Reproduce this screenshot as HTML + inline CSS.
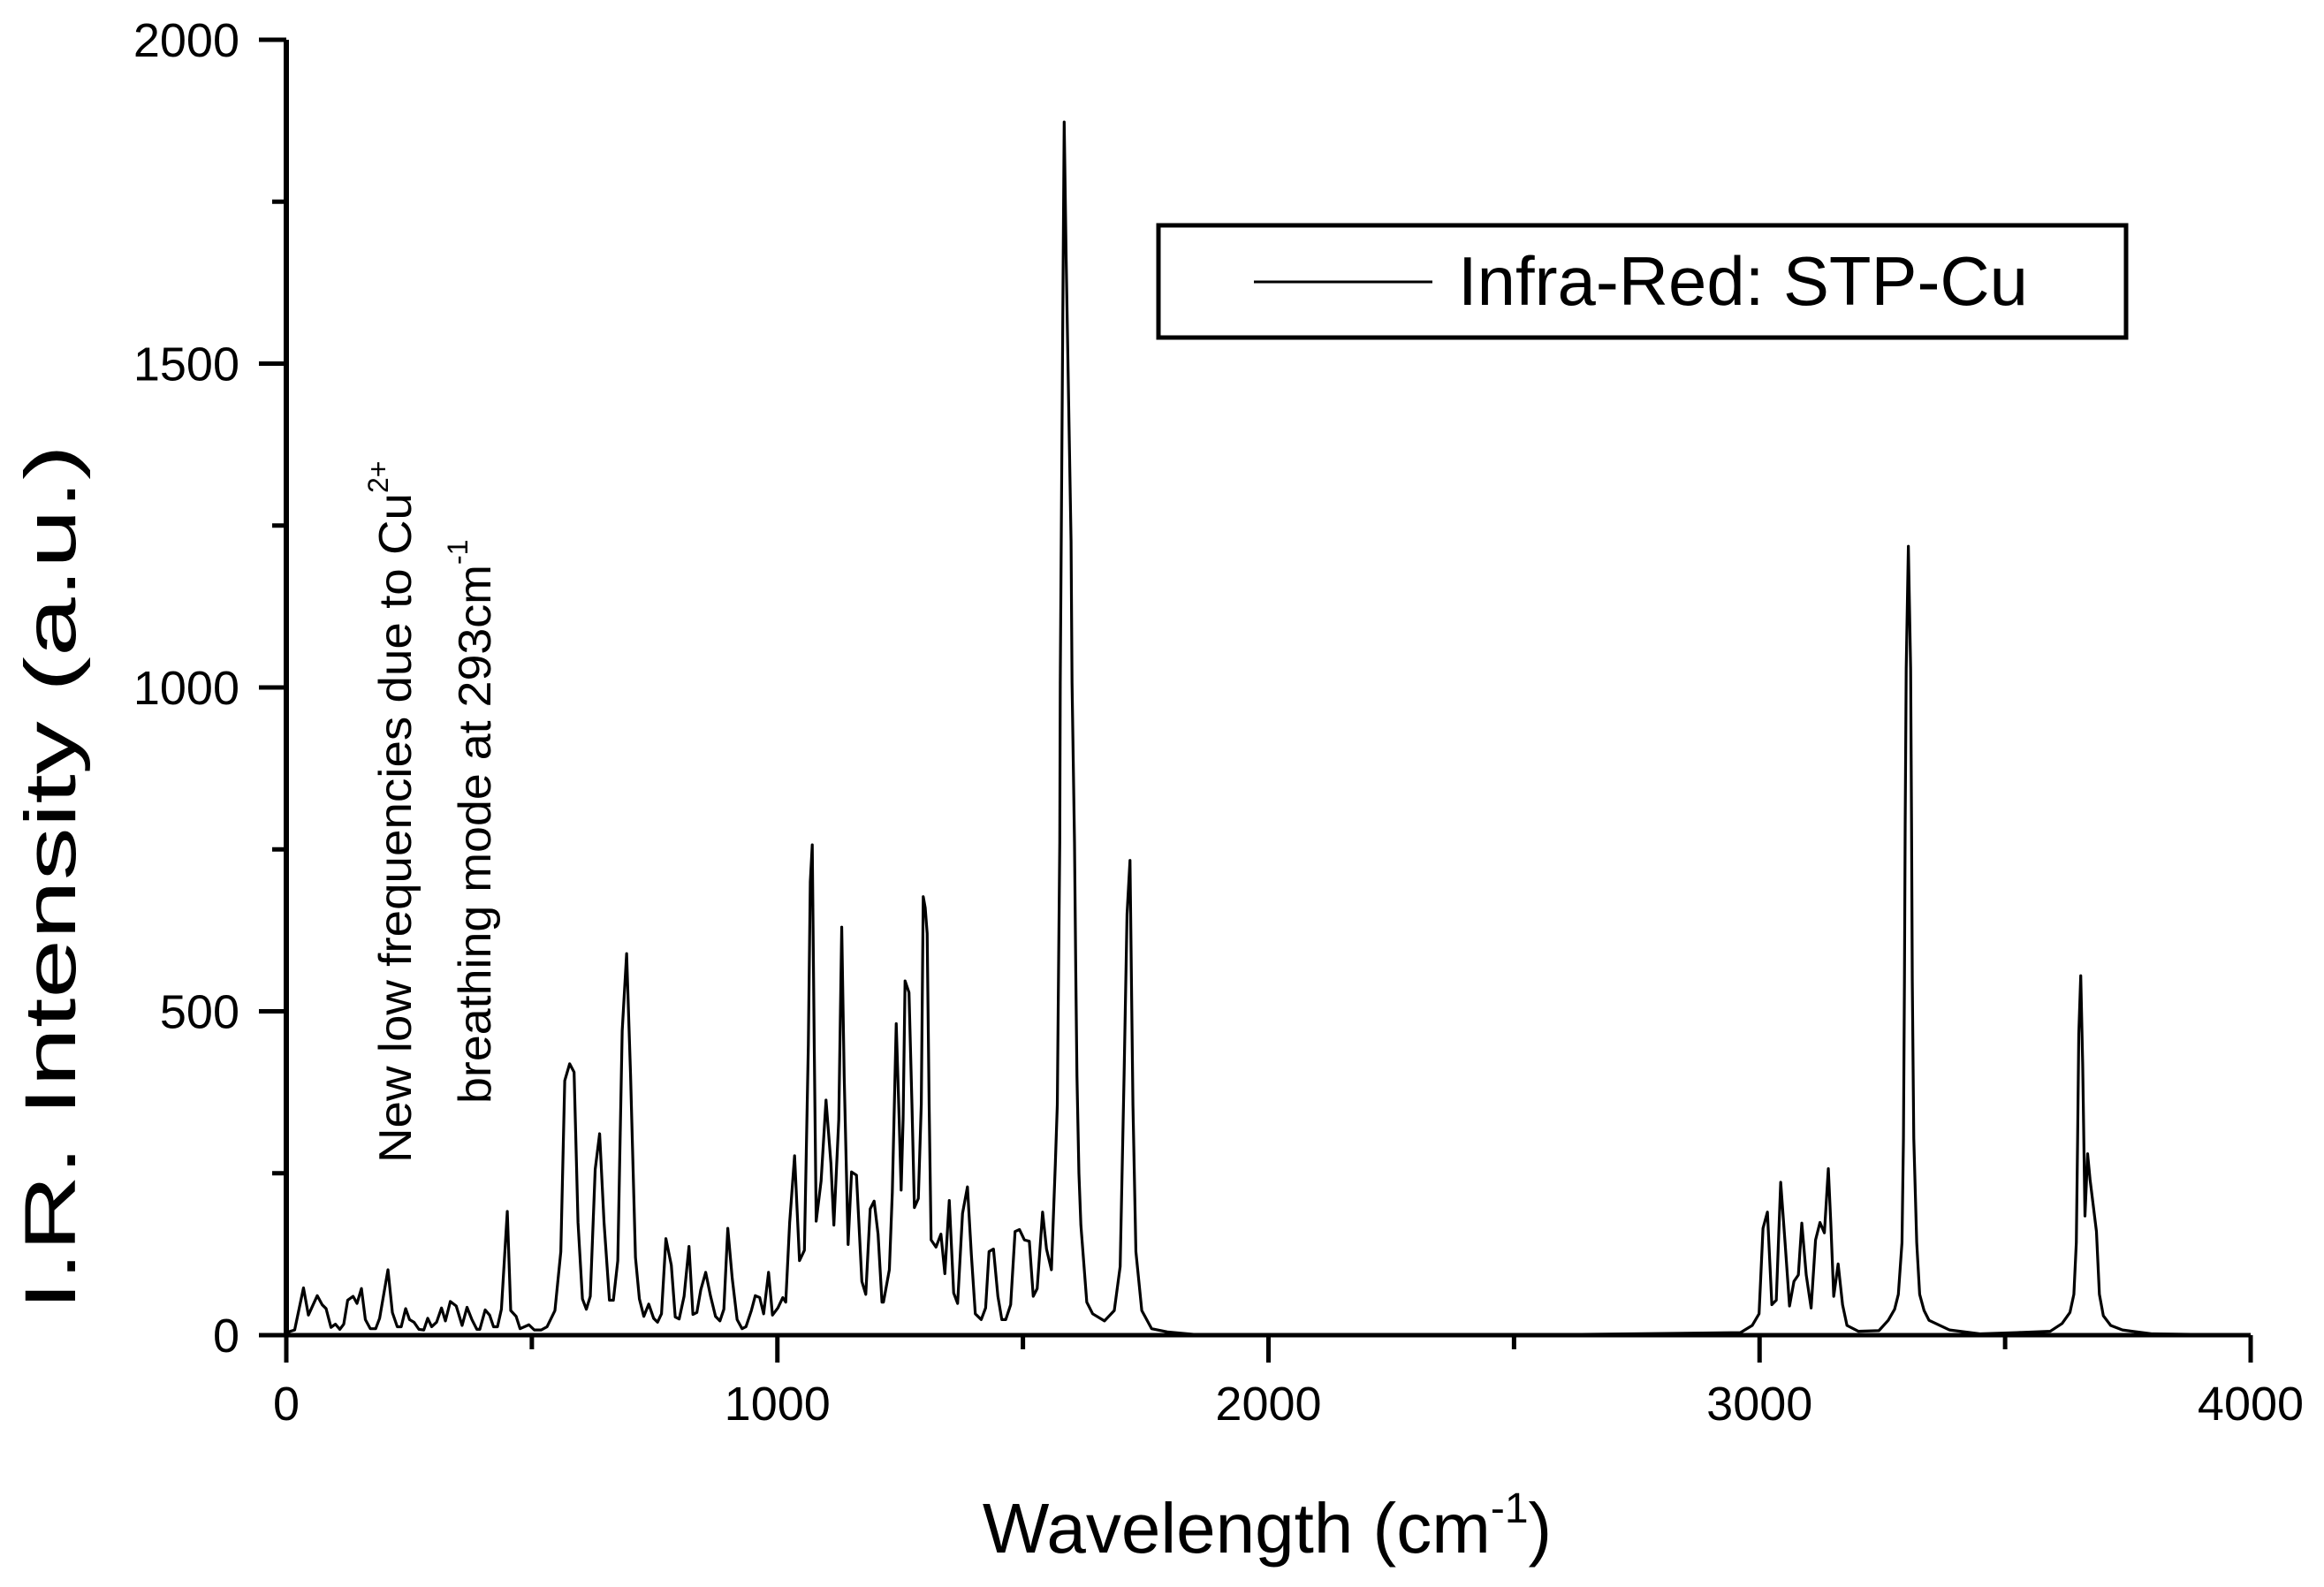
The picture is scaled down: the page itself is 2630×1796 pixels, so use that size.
<!DOCTYPE html>
<html><head><meta charset="utf-8"><style>
html,body{margin:0;padding:0;background:#fff;}
svg{display:block;font-family:"Liberation Sans",sans-serif;}
</style></head><body>
<svg id="chart" width="2630" height="1796" viewBox="0 0 2630 1796" xmlns="http://www.w3.org/2000/svg">
<rect x="0" y="0" width="2630" height="1796" fill="#fff"/>
<g id="axes"></g>
<path id="spectrum" fill="none" stroke="#000" stroke-width="3.2" stroke-linejoin="round"/>
<g>
<rect x="1311" y="255" width="1095" height="127" fill="#fff" stroke="#000" stroke-width="5"/>
<line x1="1419" y1="319" x2="1621" y2="319" stroke="#000" stroke-width="3"/>
<text x="1650" y="345" font-size="78" textLength="645" lengthAdjust="spacingAndGlyphs">Infra-Red: STP-Cu</text>
</g>
<text x="1434" y="1757" font-size="80" text-anchor="middle">Wavelength (cm<tspan font-size="48" dy="-34">-1</tspan><tspan dy="34">)</tspan></text>
<text transform="translate(85,993) rotate(-90)" font-size="82" text-anchor="middle" textLength="980" lengthAdjust="spacingAndGlyphs">I.R. Intensity (a.u.)</text>
<g>
<text transform="translate(465,1316) rotate(-90)" font-size="52"><tspan textLength="758" lengthAdjust="spacingAndGlyphs">New low frequencies due to Cu</tspan><tspan font-size="32" dy="-26">2+</tspan></text>
<text transform="translate(555,1249) rotate(-90)" font-size="52"><tspan textLength="610" lengthAdjust="spacingAndGlyphs">breathing mode at 293cm</tspan><tspan font-size="32" dy="-26">-1</tspan></text>
</g>
</svg>
<script>
const wavenumbers = [0,17,35,45,63,73,81,91,100,109,117,125,136,144,153,161,171,182,190,207,216,226,234,243,251,260,270,280,288,296,306,316,324,334,346,358,368,378,388,394,405,414,422,430,438,450,457,468,476,494,505,519,531,547,559,567,577,586,594,603,611,619,629,638,647,658,666,675,684,693,701,711,719,728,738,748,756,764,773,784,792,800,810,820,828,836,844,854,864,874,883,891,899,908,918,928,936,947,955,964,972,982,990,1001,1011,1017,1025,1035,1045,1055,1063,1067,1071,1075,1079,1089,1099,1109,1115,1125,1131,1136,1144,1151,1161,1172,1180,1189,1197,1205,1213,1216,1228,1234,1242,1248,1252,1256,1260,1268,1274,1279,1287,1293,1297,1301,1305,1309,1313,1323,1333,1341,1350,1359,1367,1377,1387,1395,1403,1415,1424,1431,1440,1449,1457,1465,1475,1484,1493,1503,1513,1521,1529,1540,1548,1558,1566,1570,1572.5,1575,1576,1578,1582,1584,1588,1598,1600,1605,1607.6,1610,1614,1618,1630,1642,1666,1686,1698,1706,1712,1718,1724,1730,1742,1762,1794,1850,2000,2500,2961,2985,2999,3007,3016,3025,3034,3043,3052,3061,3070,3079,3086,3095,3105,3114,3123,3132,3140,3145,3151,3160,3169,3178,3201,3243,3262,3275,3282.6,3290,3293,3295,3296.5,3298.6,3303,3307.6,3309.5,3311,3314,3320,3326,3335,3345,3387,3450,3525,3592,3616,3632,3640,3645,3647.6,3650,3654,3658,3662.6,3668,3673,3686,3692,3700,3715,3739,3800,4000];
const intensities = [4,8,73,31,61,47,41,12,17,9,17,54,60,49,72,24,10,10,26,101,35,13,13,41,24,20,9,8,26,13,20,42,22,52,45,15,43,24,9,9,39,31,13,13,40,191,38,29,10,16,8,8,13,38,129,393,419,406,174,56,40,60,256,311,174,54,54,115,470,589,402,120,56,29,48,26,20,33,149,108,28,25,60,137,32,35,70,97,60,29,22,40,165,88,24,10,13,38,61,58,33,97,31,42,58,51,174,277,115,131,447,700,757,450,176,238,363,265,170,333,630,400,140,252,247,83,63,195,207,156,51,51,101,220,481,333,224,333,547,529,356,197,211,356,677,660,620,356,147,136,156,95,208,65,49,188,229,124,33,24,42,129,133,60,24,24,47,160,163,147,145,60,72,190,133,101,265,356,561,761,1007,1225,1663,1873,1663,1225,1007,761,561,400,250,170,51,33,22,38,106,402,650,733,356,129,38,10,5,1,0,0,4,15,33,165,190,47,54,236,142,45,83,93,173,93,42,147,174,158,257,174,60,110,47,15,6,7,23,40,63,143,304,546,787,1029,1218,1029,787,546,304,143,63,38,23,8,2,4,6,18,35,63,143,300,465,555,417,184,280,240,160,63,30,15,8,2,0];
const xTicksMajor = [0,1000,2000,3000,4000];
const xTicksMinor = [500,1500,2500,3500];
const xTickLabels = ["0","1000","2000","3000","4000"];
const yTicksMajor = [0,500,1000,1500,2000];
const yTicksMinor = [250,750,1250,1750];
const yTickLabels = ["0","500","1000","1500","2000"];

const X0 = 324, X1 = 2547, Y0 = 1511, Y1 = 45;
const xScale = v => X0 + (v - 0) / 4000 * (X1 - X0);
const yScale = v => Y0 - (v - 0) / 2000 * (Y0 - Y1);
const NS = "http://www.w3.org/2000/svg";
const axes = document.getElementById("axes");
function mk(tag, attrs){ const e=document.createElementNS(NS,tag); for(const k in attrs) e.setAttribute(k,attrs[k]); return e; }

let d = "";
for (let i = 0; i < wavenumbers.length; i++) {
  d += (i ? "L" : "M") + xScale(wavenumbers[i]).toFixed(2) + "," + yScale(intensities[i]).toFixed(2);
}
document.getElementById("spectrum").setAttribute("d", d);

const xa = mk("line",{x1:X0,y1:Y0,x2:X1,y2:Y0,stroke:"#000","stroke-width":5});


axes.appendChild(xa);
const ya = mk("line",{x1:X0,y1:Y0+2,x2:X0,y2:Y1,stroke:"#000","stroke-width":6});


axes.appendChild(ya);

xTicksMajor.forEach((v,i)=>{
  const x = xScale(v);
  const t = mk("line",{x1:x,y1:Y0,x2:x,y2:Y0+31,stroke:"#000","stroke-width":5});
  
  
  axes.appendChild(t);
  const l = mk("text",{x:x,y:1607,"font-size":54,"text-anchor":"middle"});
  l.textContent = xTickLabels[i];
  
  
  axes.appendChild(l);
});
xTicksMinor.forEach(v=>{
  const x = xScale(v);
  const t = mk("line",{x1:x,y1:Y0,x2:x,y2:Y0+16,stroke:"#000","stroke-width":5});
  
  
  axes.appendChild(t);
});
yTicksMajor.forEach((v,i)=>{
  const y = yScale(v);
  const t = mk("line",{x1:X0,y1:y,x2:X0-31,y2:y,stroke:"#000","stroke-width":5});
  
  
  axes.appendChild(t);
  const l = mk("text",{x:271,y:y+19,"font-size":54,"text-anchor":"end"});
  l.textContent = yTickLabels[i];
  
  
  axes.appendChild(l);
});
yTicksMinor.forEach(v=>{
  const y = yScale(v);
  const t = mk("line",{x1:X0,y1:y,x2:X0-16,y2:y,stroke:"#000","stroke-width":5});
  
  
  axes.appendChild(t);
});
</script>
</body></html>
